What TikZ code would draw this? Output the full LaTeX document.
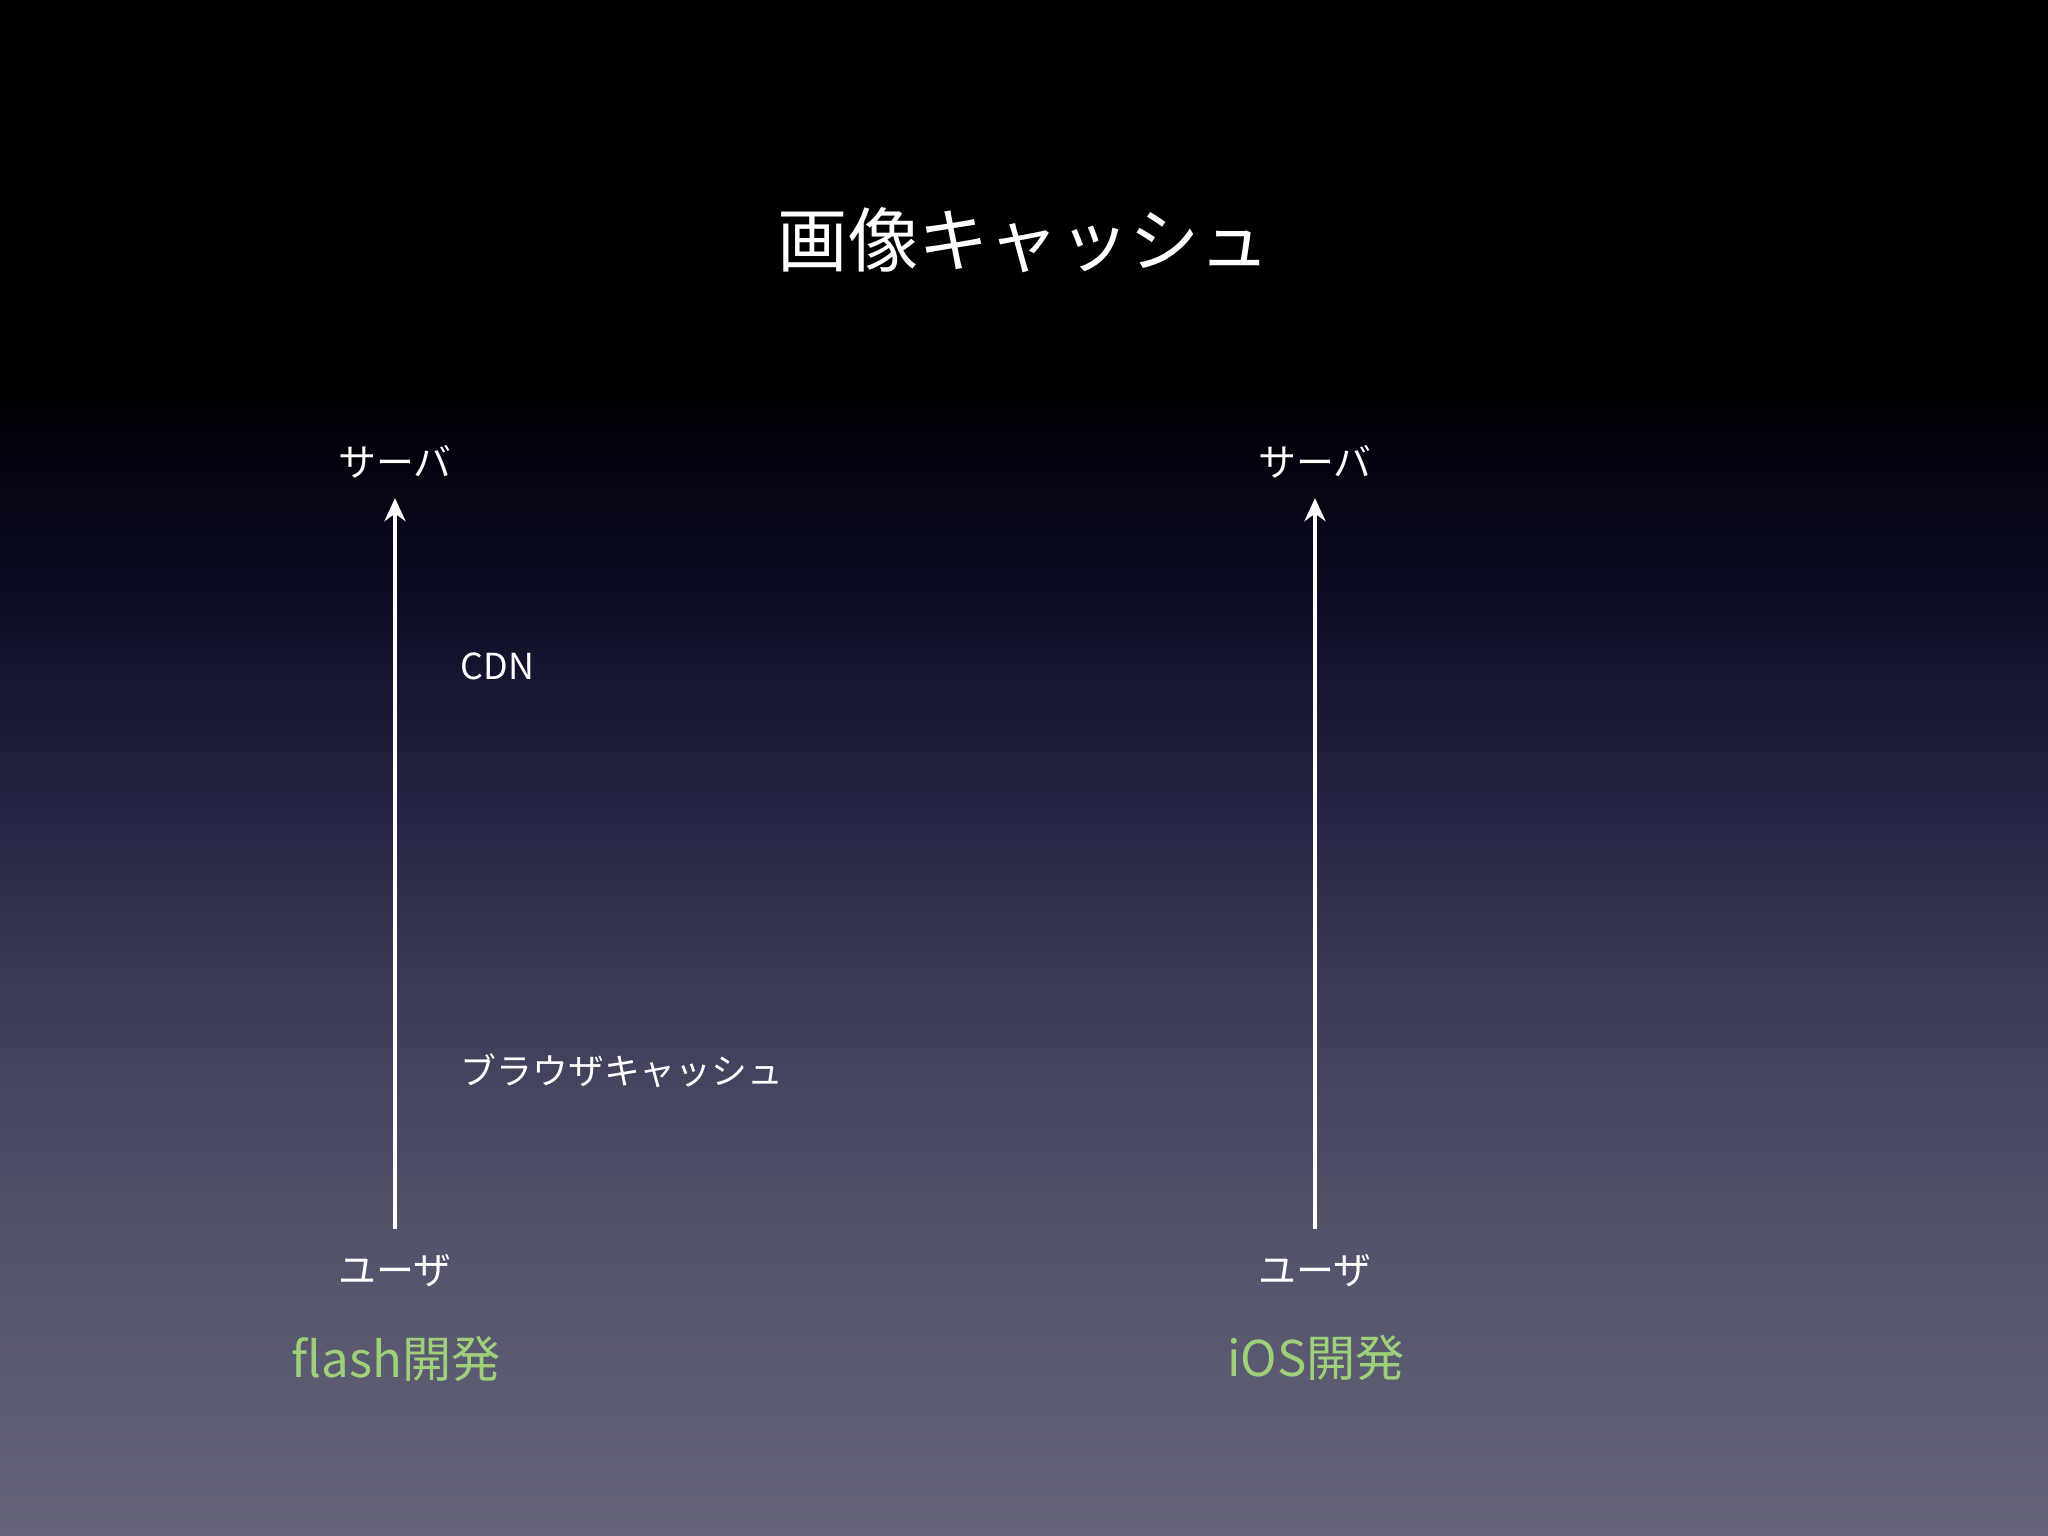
\documentclass[tikz,border=0pt]{standalone}
\usepackage{fontspec}
\setmainfont{Noto Sans CJK JP}
\usetikzlibrary{arrows.meta}

\definecolor{bgA}{RGB}{4,4,16}
\definecolor{bgB}{RGB}{12,12,36}
\definecolor{bgC}{RGB}{36,36,66}
\definecolor{bgD}{RGB}{60,60,88}
\definecolor{bgE}{RGB}{80,80,105}
\definecolor{bgF}{RGB}{100,99,120}
\definecolor{devgreen}{RGB}{158,208,122}

\begin{document}
\begin{tikzpicture}
      \useasboundingbox (0,0) rectangle (20.48,-15.36);

      % background
      \fill[black] (0,0) rectangle (20.48,-3.82);
      \foreach \ya/\yb/\ca/\cb in {3.8/4.6/black/bgA, 4.6/6.0/bgA/bgB, 6.0/8.0/bgB/bgC,
                                   8.0/10.0/bgC/bgD, 10.0/12.0/bgD/bgE, 12.0/15.36/bgE/bgF}
        \shade[top color=\ca, bottom color=\cb] (0,-\ya) rectangle (20.48,-\yb-0.02);

      \node[text=white, inner sep=0pt] (title) at (10.24,-2.40) {\fontsize{20}{24}\selectfont 画像キャッシュ};

      \begin{scope}[every node/.style={text=white, inner sep=0pt, font=\fontsize{10.8}{13}\selectfont}]
        \node (srvL) at (3.95,-4.62) {サーバ};
        \node (usrL) at (3.95,-12.71) {ユーザ};
        \node[anchor=west, font=\fontsize{10.2}{12}\selectfont] (cdn) at (4.60,-6.66) {CDN};
        \node[anchor=west, font=\fontsize{10.2}{12}\selectfont] (bcache) at (4.60,-10.71) {ブラウザキャッシュ};
        \node (srvR) at (13.15,-4.62) {サーバ};
        \node (usrR) at (13.15,-12.71) {ユーザ};
      \end{scope}

      \begin{scope}[every node/.style={text=devgreen, inner sep=0pt, font=\fontsize{14}{17}\selectfont}]
        \node (devL) at (3.96,-13.59) {flash開発};
        \node (devR) at (13.16,-13.58) {iOS開発};
      \end{scope}

      \begin{scope}[->,>={Stealth[length=2.3mm,width=2.1mm]}, line width=1.1pt, white, shorten <=0.25cm, shorten >=0.19cm]
        \draw (usrL) -- (srvL);
        \draw (usrR) -- (srvR);
      \end{scope}
   \end{tikzpicture}
\end{document}
